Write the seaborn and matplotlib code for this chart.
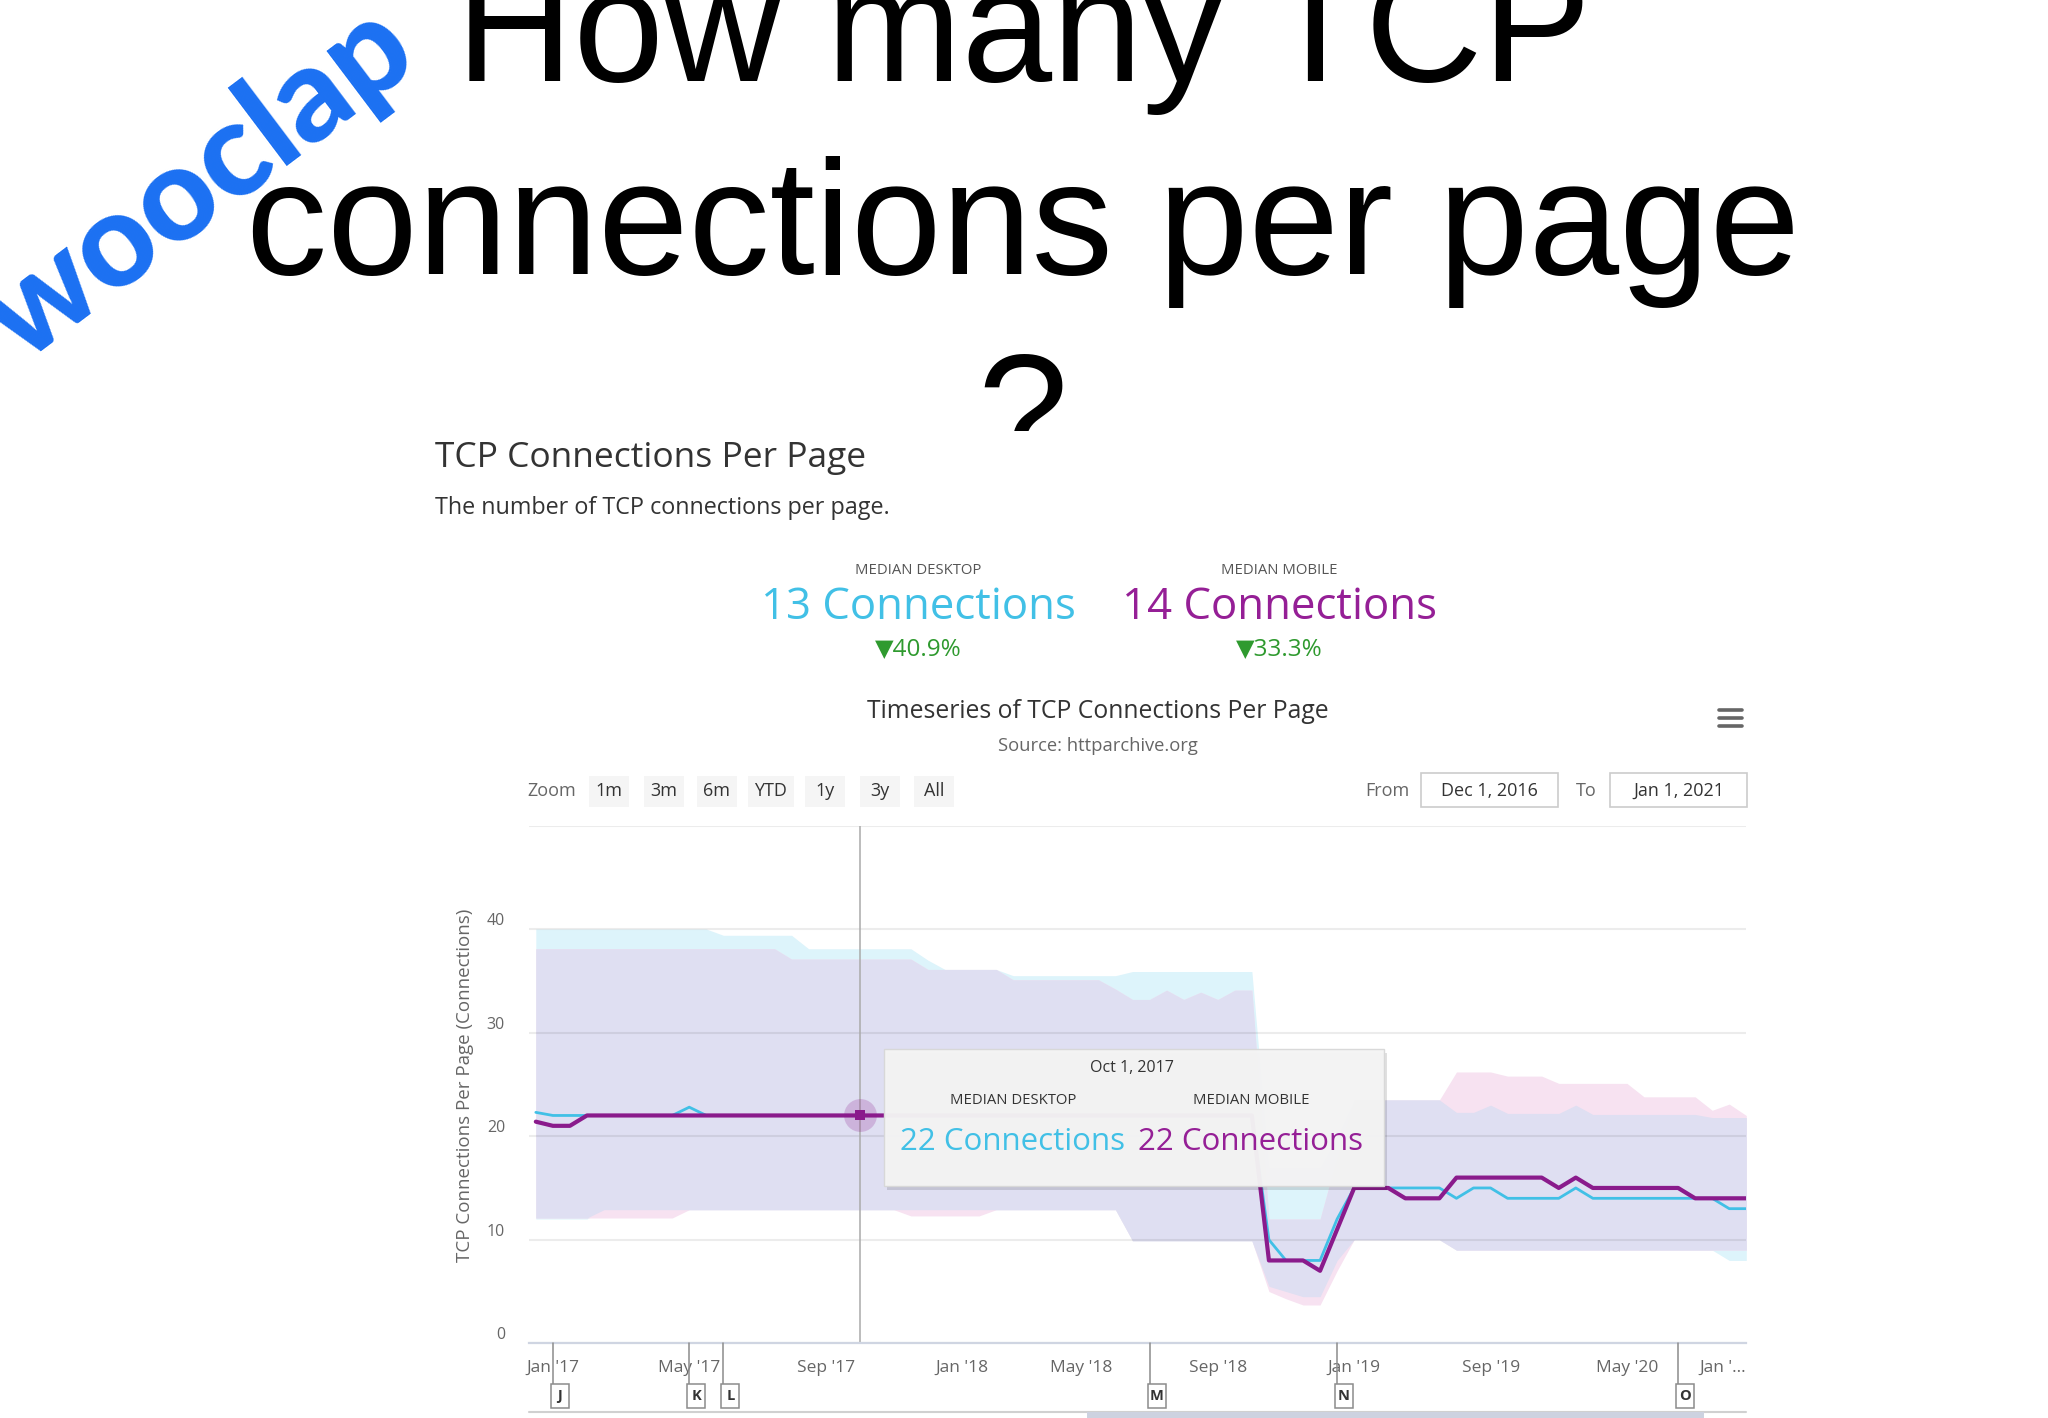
import numpy as np
import pandas as pd
import matplotlib
matplotlib.use("Agg")
import matplotlib.pyplot as plt
import matplotlib.transforms as mtrans
from matplotlib.patches import Rectangle
import seaborn as sns

# ---------------- data (ordinal crawl index, Dec 2016 .. Jan 2021) ----------------
crawl = list(range(72))
desktop_median = ([22.3] + [22] * 8 + [22.8] + [22] * 33 + [10] + [8] * 3 + [12]
                  + [15] * 6 + [14] + [15] * 2 + [14] * 4 + [15] + [14] * 8 + [13] * 2)
mobile_median = ([21.4] + [21] * 2 + [22] * 40 + [8] * 3 + [7] + [11]
                 + [15] * 3 + [14] * 3 + [16] * 6 + [15] + [16] + [15] * 6 + [14] * 4)
desktop_p90 = ([40.0] * 11 + [39.4] * 5 + [38.1] * 7 + [37.0] + [36.1] * 4 + [35.5] * 7
               + [35.9] * 8 + [17] * 4 + [20] + [23.5] * 6 + [22.3] * 2 + [23]
               + [22.2] * 4 + [23] + [22.1] * 7 + [21.8] * 3)
mobile_p90 = ([38.1] * 15 + [37.1] * 8 + [36.1] * 5 + [35.1] * 6 + [34.2]
              + [33.2, 33.2, 34.1, 33.2, 33.9, 33.2, 34.1, 34.1] + [12] * 4 + [18]
              + [23.5] * 6 + [26.2] * 3 + [25.8] * 3 + [25.1] * 5 + [23.8] * 4
              + [22.5, 23.1, 22.0])
desktop_p10 = ([12.0] * 4 + [12.9] * 31 + [9.9] * 8 + [5.5, 5.0, 4.5, 4.5, 8.0]
               + [10] * 6 + [9] * 16 + [8] * 2)
mobile_p10 = ([12.1] * 9 + [12.9] * 13 + [12.3] * 5 + [12.9] * 8 + [9.9] * 8
              + [5.0, 4.3, 3.7, 3.7, 7.0] + [10] * 6 + [9] * 18)

tick_pos = [1, 9, 17, 25, 32, 40, 48, 56, 64, 71]
tick_labels = ["Jan '17", "May '17", "Sep '17", "Jan '18", "May '18", "Sep '18",
               "Jan '19", "Sep '19", "May '20", "Jan '..."]
y_ticks = [0, 10, 20, 30, 40]
flag_pos = [1, 9, 11, 36, 47, 67]
flag_labels = ["J", "K", "L", "M", "N", "O"]
tooltip_idx = 19
tooltip_date = "Oct 1, 2017"
tooltip_desktop = "22 Connections"
tooltip_mobile = "22 Connections"
zoom_buttons = ["1m", "3m", "6m", "YTD", "1y", "3y", "All"]

C_DESK = "#41c0e6"
C_MOB = "#8a1b8c"

# ---------------- figure ----------------
sns.set_style("white")
plt.rcParams["font.family"] = ["Open Sans", "DejaVu Sans"]

W, H = 2048, 1418
fig = plt.figure(figsize=(W / 100, H / 100), dpi=100)
fig.patch.set_facecolor("white")


def fx(x):
    return x / W


def fy(y):
    return 1 - y / H


# slide title (partly hidden by the chart screenshot)
for txt, base in [("How many TCP", 81), ("connections per page", 274), ("?", 468)]:
    fig.text(fx(1023), fy(base), txt, ha="center", va="baseline", fontsize=117,
             family="Liberation Sans", color="black", zorder=1)

fig.text(fx(200), fy(184), "wooclap", rotation=37, rotation_mode="anchor",
         ha="center", va="center", fontsize=95, fontweight="black",
         family="Lato", color="#1b70f2", zorder=1)

# chart screenshot background
fig.patches.append(Rectangle((0, 0), 1, fy(431), transform=fig.transFigure,
                             facecolor="white", edgecolor="none", zorder=2))

# header texts
fig.text(fx(435), fy(458), "TCP Connections Per Page", ha="left", va="center",
         fontsize=25.5, color="#333333", zorder=3)
fig.text(fx(435), fy(508), "The number of TCP connections per page.", ha="left",
         va="center", fontsize=16.8, color="#333333", zorder=3)

for cx, lab, val, col, chg in [(918, "MEDIAN DESKTOP", "13 Connections", C_DESK, "▼40.9%"),
                               (1279, "MEDIAN MOBILE", "14 Connections", "#951f96", "▼33.3%")]:
    fig.text(fx(cx), fy(571), lab, ha="center", va="center", fontsize=10.7,
             color="#555555", zorder=3)
    fig.text(fx(cx), fy(608), val, ha="center", va="center", fontsize=31.5,
             color=col, zorder=3)
    fig.text(fx(cx), fy(649), chg, ha="center", va="center", fontsize=17.5,
             color="#2f9a2f", zorder=3)

fig.text(fx(1098), fy(711), "Timeseries of TCP Connections Per Page", ha="center",
         va="center", fontsize=17.8, color="#333333", zorder=3)
fig.text(fx(1098), fy(746), "Source: httparchive.org", ha="center", va="center",
         fontsize=13.2, color="#666666", zorder=3)

# hamburger menu
for yy in (710, 718, 726):
    fig.lines.append(plt.Line2D([fx(1719), fx(1742)], [fy(yy), fy(yy)],
                                transform=fig.transFigure, color="#666666",
                                lw=2.6, zorder=3))

# range selector
fig.text(fx(552), fy(791), "Zoom", ha="center", va="center", fontsize=13,
         color="#666666", zorder=3)
btn_x = [608.6, 663.5, 717, 770.5, 825.4, 880.2, 933.8]
for bx, lab in zip(btn_x, zoom_buttons):
    bw = 46 if lab == "YTD" else 40
    fig.patches.append(Rectangle((fx(bx - bw / 2), fy(807)), bw / W, 31 / H,
                                 transform=fig.transFigure, facecolor="#f5f5f5",
                                 edgecolor="none", zorder=3))
    fig.text(fx(bx), fy(791), lab, ha="center", va="center", fontsize=13,
             color="#333333", zorder=4)
fig.text(fx(1387), fy(791), "From", ha="center", va="center", fontsize=13,
         color="#666666", zorder=3)
fig.text(fx(1586), fy(791), "To", ha="center", va="center", fontsize=13,
         color="#666666", zorder=3)
for x0, x1, lab in [(1421, 1558, "Dec 1, 2016"), (1610, 1747, "Jan 1, 2021")]:
    fig.patches.append(Rectangle((fx(x0), fy(807)), (x1 - x0) / W, 34 / H,
                                 transform=fig.transFigure, facecolor="white",
                                 edgecolor="#cccccc", lw=1.2, zorder=3))
    fig.text(fx((x0 + x1) / 2), fy(791), lab, ha="center", va="center",
             fontsize=13, color="#333333", zorder=4)

# ---------------- plot area ----------------
ax_l, ax_r, ax_t, ax_b = 529, 1746.3, 825.5, 1343.3
ax = fig.add_axes([fx(ax_l), fy(ax_b), (ax_r - ax_l) / W, (ax_b - ax_t) / H])
ax.set_zorder(5)
ax.set_facecolor("white")

x = np.array(crawl, dtype=float)
d_lo, d_hi = np.array(desktop_p10), np.array(desktop_p90)
m_lo, m_hi = np.array(mobile_p10), np.array(mobile_p90)
ax.fill_between(x, d_lo, d_hi, color="#ddf4fb", lw=0, zorder=1)
ax.fill_between(x, m_lo, m_hi, color="#f7e2f1", lw=0, zorder=1.05)
lo = np.maximum(d_lo, m_lo)
hi = np.minimum(d_hi, m_hi)
ax.fill_between(x, lo, hi, where=hi > lo, interpolate=True, color="#dfdff2",
                lw=0, zorder=1.1)

df = pd.DataFrame({
    "crawl": crawl * 2,
    "connections": desktop_median + mobile_median,
    "client": ["desktop"] * len(crawl) + ["mobile"] * len(crawl),
})
sns.lineplot(data=df[df.client == "desktop"], x="crawl", y="connections",
             estimator=None, color=C_DESK, lw=2.0, ax=ax, zorder=3)
sns.lineplot(data=df[df.client == "mobile"], x="crawl", y="connections",
             estimator=None, color=C_MOB, lw=3.0, ax=ax, zorder=4)

ax.set_xlim(-0.4, 71)
ax.set_ylim(0, 50)
ax.set_xlabel("")
ax.set_ylabel("")
ax.set_yticks(y_ticks + [50])
ax.set_yticklabels([])
ax.yaxis.grid(True, color="black", alpha=0.075, lw=1.5)
ax.xaxis.grid(False)
ax.set_axisbelow("line")
ax.tick_params(axis="y", length=0)
for s in ("left", "right", "top"):
    ax.spines[s].set_visible(False)
ax.spines["bottom"].set_color("#cfd5e2")
ax.spines["bottom"].set_linewidth(1.6)

ax.set_xticks(tick_pos)
ax.set_xticklabels(tick_labels)
ax.tick_params(axis="x", length=9, width=1, color="#d6dbe5", labelsize=12.5,
               labelcolor="#666666", pad=3)
ax.get_xticklabels()[-1].set_horizontalalignment("right")

# y tick labels (Highcharts places them slightly above the grid lines)
ytrans = mtrans.offset_copy(
    mtrans.blended_transform_factory(fig.transFigure, ax.transData),
    fig=fig, x=0, y=8, units="dots")
for v in y_ticks:
    ax.text(fx(505), v, str(v), transform=ytrans, ha="right", va="center",
            fontsize=11.5, color="#666666", clip_on=False)
fig.text(fx(465), fy(1085), "TCP Connections Per Page (Connections)", rotation=90,
         ha="center", va="center", fontsize=13.5, color="#666666", zorder=6)

# crosshair + hover marker
ax.axvline(tooltip_idx, color="#aaaaaa", lw=1.1, zorder=2.5)
ax.scatter([tooltip_idx], [mobile_median[tooltip_idx]], s=560, color=C_MOB,
           alpha=0.22, lw=0, zorder=5)
ax.scatter([tooltip_idx], [mobile_median[tooltip_idx]], s=55, marker="s",
           color=C_MOB, lw=0, zorder=6)

# flags below the axis
btrans = mtrans.blended_transform_factory(ax.transData, fig.transFigure)
for fp, fl in zip(flag_pos, flag_labels):
    ax.plot([fp, fp], [fy(ax_b), fy(1384)], transform=btrans, color="#8c8c8c",
            lw=1.1, clip_on=False, zorder=7)
    ax.add_patch(Rectangle((fp - 0.12, fy(1408)), 1.06, 24 / H, transform=btrans,
                           facecolor="white", edgecolor="#8c8c8c", lw=1.1,
                           clip_on=False, zorder=7))
    ax.text(fp + 0.41, fy(1396), fl, transform=btrans, ha="center", va="center",
            fontsize=10.5, fontweight="bold", color="#333333", clip_on=False,
            zorder=8)

# tooltip
ax.add_patch(Rectangle((fx(887), fy(1190)), (1384 - 884) / W, (1186 - 1049) / H,
                       transform=fig.transFigure, facecolor=(0, 0, 0, 0.12),
                       edgecolor="none", clip_on=False, zorder=10))
ax.add_patch(Rectangle((fx(884), fy(1186)), (1384 - 884) / W, (1186 - 1049) / H,
                       transform=fig.transFigure, facecolor="#f4f4f4",
                       edgecolor="#d8d8d8", lw=1, alpha=0.97, clip_on=False,
                       zorder=11))
ax.text(fx(1132), fy(1068), tooltip_date, transform=fig.transFigure, ha="center",
        va="center", fontsize=11.5, color="#333333", zorder=12)
ax.text(fx(1013), fy(1101), "MEDIAN DESKTOP", transform=fig.transFigure,
        ha="center", va="center", fontsize=10.7, color="#333333", zorder=12)
ax.text(fx(1251), fy(1101), "MEDIAN MOBILE", transform=fig.transFigure,
        ha="center", va="center", fontsize=10.7, color="#333333", zorder=12)
ax.text(fx(1013), fy(1142), tooltip_desktop, transform=fig.transFigure,
        ha="center", va="center", fontsize=22.5, color=C_DESK, zorder=12)
ax.text(fx(1251), fy(1142), tooltip_mobile, transform=fig.transFigure,
        ha="center", va="center", fontsize=22.5, color="#951f96", zorder=12)

# navigator edge at the bottom
fig.lines.append(plt.Line2D([fx(529), fx(1746)], [fy(1412), fy(1412)],
                            transform=fig.transFigure, color="#d0d0d0", lw=1.5,
                            zorder=3))
fig.patches.append(Rectangle((fx(1087), 0), (1704 - 1087) / W, 6 / H,
                             transform=fig.transFigure, facecolor="#cdd2e0",
                             edgecolor="none", zorder=3))

fig.savefig("out.png", dpi=100, facecolor="white")
